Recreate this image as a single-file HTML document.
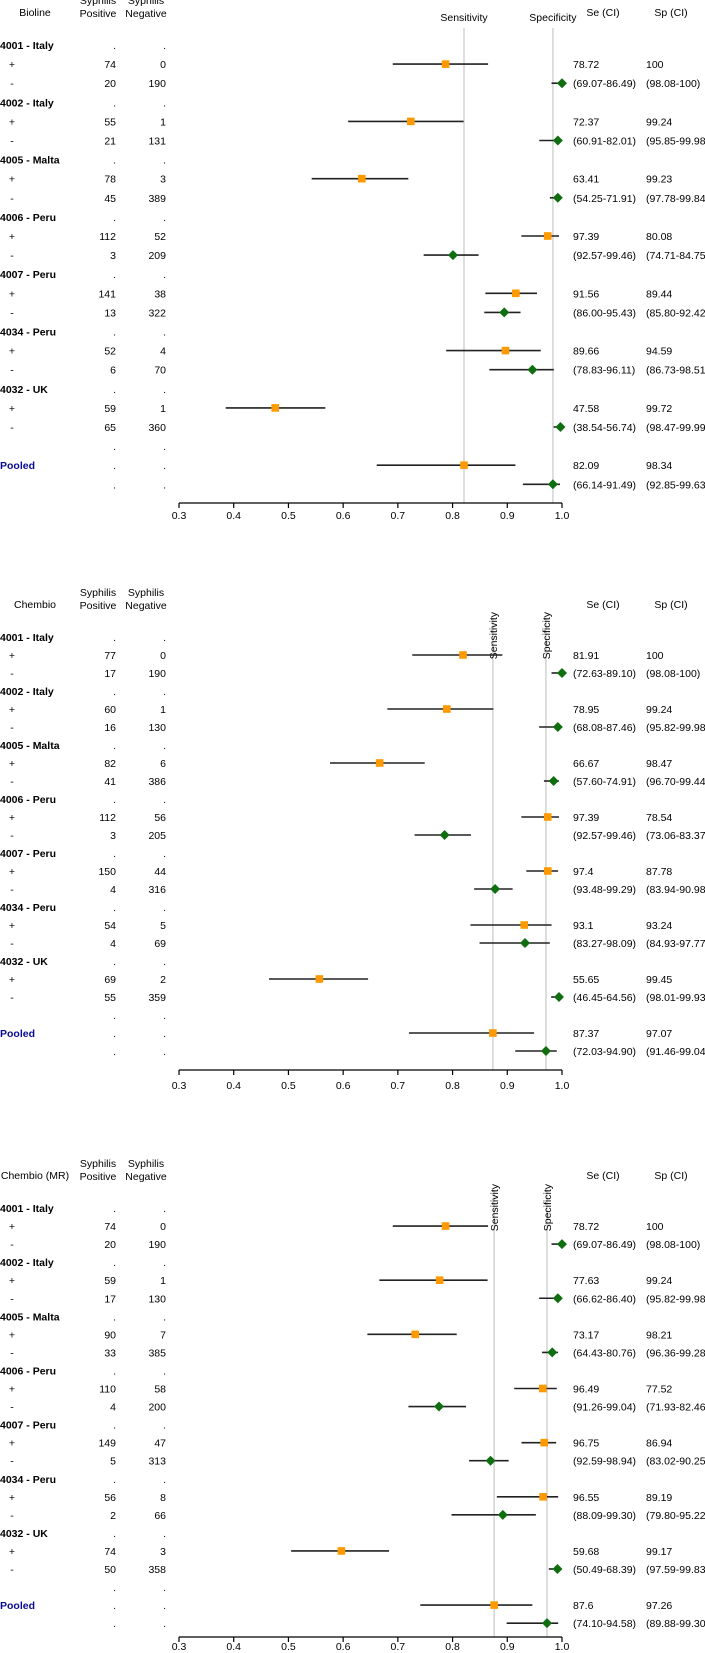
<!DOCTYPE html>
<html><head><meta charset="utf-8"><style>
html,body{margin:0;padding:0;background:#fff;}
svg{display:block;font-family:"Liberation Sans",Arial,sans-serif;font-size:10.5px;}
</style></head><body>
<svg id="chart" width="705" height="1653" viewBox="0 0 705 1653" xmlns="http://www.w3.org/2000/svg"></svg>
<script>
// ---------- data ----------
const sites = ["4001 - Italy","4002 - Italy","4005 - Malta","4006 - Peru","4007 - Peru","4034 - Peru","4032 - UK"];
const panelTitles = ["Bioline","Chembio","Chembio (MR)"];
const ticks = [0.3,0.4,0.5,0.6,0.7,0.8,0.9,1.0];
const tickLabels = ["0.3","0.4","0.5","0.6","0.7","0.8","0.9","1.0"];

const p1PosTP = [74,55,78,112,141,52,59];
const p1PosFP = [0,1,3,52,38,4,1];
const p1NegFN = [20,21,45,3,13,6,65];
const p1NegTN = [190,131,389,209,322,70,360];
const p1Se = [78.72,72.37,63.41,97.39,91.56,89.66,47.58,82.09];
const p1SeLo = [69.07,60.91,54.25,92.57,86.00,78.83,38.54,66.14];
const p1SeHi = [86.49,82.01,71.91,99.46,95.43,96.11,56.74,91.49];
const p1Sp = [100,99.24,99.23,80.08,89.44,94.59,99.72,98.34];
const p1SpLo = [98.08,95.85,97.78,74.71,85.80,86.73,98.47,92.85];
const p1SpHi = [100,99.98,99.84,84.75,92.42,98.51,99.99,99.63];

const p2PosTP = [77,60,82,112,150,54,69];
const p2PosFP = [0,1,6,56,44,5,2];
const p2NegFN = [17,16,41,3,4,4,55];
const p2NegTN = [190,130,386,205,316,69,359];
const p2Se = [81.91,78.95,66.67,97.39,97.4,93.1,55.65,87.37];
const p2SeLo = [72.63,68.08,57.60,92.57,93.48,83.27,46.45,72.03];
const p2SeHi = [89.10,87.46,74.91,99.46,99.29,98.09,64.56,94.90];
const p2Sp = [100,99.24,98.47,78.54,87.78,93.24,99.45,97.07];
const p2SpLo = [98.08,95.82,96.70,73.06,83.94,84.93,98.01,91.46];
const p2SpHi = [100,99.98,99.44,83.37,90.98,97.77,99.93,99.04];

const p3PosTP = [74,59,90,110,149,56,74];
const p3PosFP = [0,1,7,58,47,8,3];
const p3NegFN = [20,17,33,4,5,2,50];
const p3NegTN = [190,130,385,200,313,66,358];
const p3Se = [78.72,77.63,73.17,96.49,96.75,96.55,59.68,87.6];
const p3SeLo = [69.07,66.62,64.43,91.26,92.59,88.09,50.49,74.10];
const p3SeHi = [86.49,86.40,80.76,99.04,98.94,99.30,68.39,94.58];
const p3Sp = [100,99.24,98.21,77.52,86.94,89.19,99.17,97.26];
const p3SpLo = [98.08,95.82,96.36,71.93,83.02,79.80,97.59,89.88];
const p3SpHi = [100,99.98,99.28,82.46,90.25,95.22,99.83,99.30];

// ---------- layout ----------
const svg = document.getElementById('chart');
const NS = "http://www.w3.org/2000/svg";
const X0 = 179, X1 = 562, VMIN = 0.3, VMAX = 1.0;
function xScale(v){ return X0 + (v - VMIN) / (VMAX - VMIN) * (X1 - X0); }
function el(tag, attrs, parent){
  const e = document.createElementNS(NS, tag);
  for (const k in attrs) e.setAttribute(k, attrs[k]);
  (parent || svg).appendChild(e);
  return e;
}
function txt(parent, x, y, s, anchor, extra){
  const t = el('text', Object.assign({x:x, y:y, 'text-anchor':anchor||'start', fill:'#000'}, extra||{}), parent);
  t.textContent = s;
  return t;
}
function fmt(n){ return n === 100 ? '100' : n.toFixed(2); }

const panels = [
  {title:panelTitles[0], hdrY:16, rowY:45, step:19.1, axisY:503, labY:519, rotated:false, lineTop:28,
   pTP:p1PosTP,pFP:p1PosFP,nFN:p1NegFN,nTN:p1NegTN,se:p1Se,seLo:p1SeLo,seHi:p1SeHi,sp:p1Sp,spLo:p1SpLo,spHi:p1SpHi},
  {title:panelTitles[1], hdrY:608, rowY:637, step:18, axisY:1070, labY:1089, rotated:true, lineTop:618,
   pTP:p2PosTP,pFP:p2PosFP,nFN:p2NegFN,nTN:p2NegTN,se:p2Se,seLo:p2SeLo,seHi:p2SeHi,sp:p2Sp,spLo:p2SpLo,spHi:p2SpHi},
  {title:panelTitles[2], hdrY:1179, rowY:1208, step:18.05, axisY:1637, labY:1650, rotated:true, lineTop:1190,
   pTP:p3PosTP,pFP:p3PosFP,nFN:p3NegFN,nTN:p3NegTN,se:p3Se,seLo:p3SeLo,seHi:p3SeHi,sp:p3Sp,spLo:p3SpLo,spHi:p3SpHi}
];

const COL_NAME = 0, COL_SIGN = 12, COL_POS = 116, COL_NEG = 166, COL_SE = 573, COL_SP = 646;

panels.forEach((P, pi) => {
  const g = el('g', {});
  
  
  const n = sites.length;
  const poolSe = P.se[n], poolSp = P.sp[n];
  const sx = xScale(poolSe/100), px = xScale(poolSp/100);

  const l1 = el('line', {x1:sx, x2:sx, y1:P.lineTop, y2:P.axisY, stroke:'#c8c8c8', 'stroke-width':1.2}, g);
  
  
  const l2 = el('line', {x1:px, x2:px, y1:P.lineTop, y2:P.axisY, stroke:'#c8c8c8', 'stroke-width':1.2}, g);
  
  

  const ht = txt(g, 35, P.hdrY, P.title, 'middle');
  
  
  const h1 = txt(g, 98, P.hdrY-12, 'Syphilis', 'middle'); txt(g, 98, P.hdrY+1, 'Positive', 'middle');
  
  
  const h2 = txt(g, 146, P.hdrY-12, 'Syphilis', 'middle'); txt(g, 146, P.hdrY+1, 'Negative', 'middle');
  
  
  const h3 = txt(g, 603, P.hdrY, 'Se (CI)', 'middle');
  
  
  const h4 = txt(g, 671, P.hdrY, 'Sp (CI)', 'middle');
  
  
  let sl, pl;
  if (!P.rotated){
    sl = txt(g, sx, P.hdrY+5, 'Sensitivity', 'middle');
    pl = txt(g, px, P.hdrY+5, 'Specificity', 'middle');
  } else {
    const by = P.lineTop - 6;
    sl = txt(g, 0, 0, 'Sensitivity', 'end', {transform:'translate('+(sx+4)+','+by+') rotate(-90)'});
    pl = txt(g, 0, 0, 'Specificity', 'end', {transform:'translate('+(px+4)+','+by+') rotate(-90)'});
  }
  
  
  
  

  function rowY(i){ return P.rowY + i*P.step; }
  function drawSe(y, i){
    const ln = el('line', {x1:xScale(P.seLo[i]/100), x2:xScale(P.seHi[i]/100), y1:y, y2:y, stroke:'#222', 'stroke-width':1.6}, g);
    
    
    const c = xScale(P.se[i]/100);
    const m = el('rect', {x:c-3.8, y:y-3.8, width:7.6, height:7.6, fill:'#ff9900'}, g);
    
    
  }
  function drawSp(y, i){
    const ln = el('line', {x1:xScale(P.spLo[i]/100), x2:xScale(P.spHi[i]/100), y1:y, y2:y, stroke:'#222', 'stroke-width':1.6}, g);
    
    
    const c = xScale(P.sp[i]/100);
    const m = el('polygon', {points:(c-5)+','+y+' '+c+','+(y-5)+' '+(c+5)+','+y+' '+c+','+(y+5), fill:'#0f6e0f'}, g);
    
    
  }

  for (let i=0;i<n;i++){
    const y0 = rowY(i*3), yp = rowY(i*3+1), yn = rowY(i*3+2);
    const s = txt(g, COL_NAME, y0+4, sites[i], 'start', {'font-weight':'bold'});
    
    
    txt(g, COL_POS, y0+4, '.', 'end'); txt(g, COL_NEG, y0+4, '.', 'end');
    txt(g, COL_SIGN, yp+4, '+', 'middle');
    txt(g, COL_POS, yp+4, String(P.pTP[i]), 'end');
    txt(g, COL_NEG, yp+4, String(P.pFP[i]), 'end');
    txt(g, COL_SIGN, yn+4, '-', 'middle');
    txt(g, COL_POS, yn+4, String(P.nFN[i]), 'end');
    txt(g, COL_NEG, yn+4, String(P.nTN[i]), 'end');
    txt(g, COL_SE, yp+4, String(P.se[i]));
    txt(g, COL_SP, yp+4, String(P.sp[i]));
    txt(g, COL_SE, yn+4, '('+fmt(P.seLo[i])+'-'+fmt(P.seHi[i])+')');
    txt(g, COL_SP, yn+4, '('+fmt(P.spLo[i])+'-'+fmt(P.spHi[i])+')');
    drawSe(yp, i);
    drawSp(yn, i);
  }
  const yb = rowY(21), ypo = rowY(22), yl = rowY(23);
  txt(g, COL_POS, yb+4, '.', 'end'); txt(g, COL_NEG, yb+4, '.', 'end');
  const pt = txt(g, COL_NAME, ypo+4, 'Pooled', 'start', {'font-weight':'bold', fill:'#0a0a8c'});
  
  
  txt(g, COL_POS, ypo+4, '.', 'end'); txt(g, COL_NEG, ypo+4, '.', 'end');
  txt(g, COL_POS, yl+4, '.', 'end'); txt(g, COL_NEG, yl+4, '.', 'end');
  txt(g, COL_SE, ypo+4, String(P.se[n]));
  txt(g, COL_SP, ypo+4, String(P.sp[n]));
  txt(g, COL_SE, yl+4, '('+fmt(P.seLo[n])+'-'+fmt(P.seHi[n])+')');
  txt(g, COL_SP, yl+4, '('+fmt(P.spLo[n])+'-'+fmt(P.spHi[n])+')');
  drawSe(ypo, n);
  drawSp(yl, n);

  const ax = el('g', {}, g);
  
  
  el('line', {x1:X0, x2:X1, y1:P.axisY, y2:P.axisY, stroke:'#000', 'stroke-width':1.2}, ax);
  ticks.forEach((t, k) => {
    const x = xScale(t);
    const tk = el('line', {x1:x, x2:x, y1:P.axisY, y2:P.axisY+5, stroke:'#000', 'stroke-width':1.2}, ax);
    
    
    const tl = txt(ax, x, P.labY, tickLabels[k], 'middle');
    
    
  });
});
</script>
</body></html>
